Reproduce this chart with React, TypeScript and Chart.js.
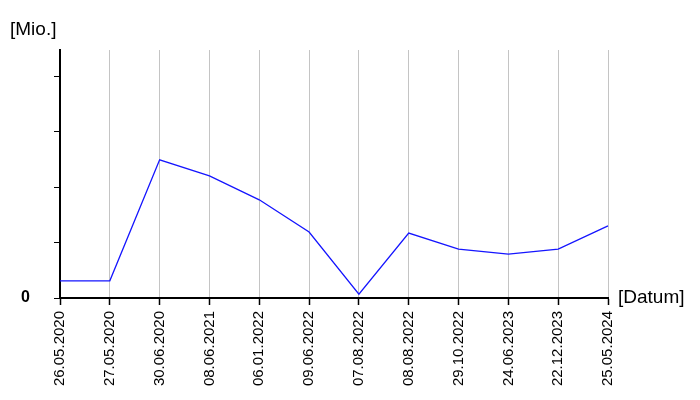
import React, { useEffect, useRef } from "react";
import { Chart, registerables } from "chart.js";

Chart.register(...registerables);

const dates = [
  "26.05.2020", "27.05.2020", "30.06.2020", "08.06.2021", "06.01.2022", "09.06.2022",
  "07.08.2022", "08.08.2022", "29.10.2022", "24.06.2023", "22.12.2023", "25.05.2024",
];
const values = [0.31, 0.31, 2.49, 2.2, 1.77, 1.19, 0.07, 1.17, 0.88, 0.79, 0.88, 1.3];
const yMax = 4.47;
const yUnitLabel = "[Mio.]";
const xUnitLabel = "[Datum]";

const FONT = "'Liberation Sans', Arial, sans-serif";

export default function App() {
  const ref = useRef<HTMLCanvasElement | null>(null);
  useEffect(() => {
    if (!ref.current) return;
    const unitPlugin = {
      id: "units",
      afterDraw(chart: any) {
        const ctx = chart.ctx;
        const area = chart.chartArea;
        ctx.save();
        ctx.fillStyle = "#000";
        ctx.font = `19px ${FONT}`;
        ctx.textAlign = "left";
        ctx.textBaseline = "middle";
        ctx.fillText(yUnitLabel, 10, 30);
        ctx.fillText(xUnitLabel, area.right + 10, area.bottom);
        ctx.restore();
      },
    };
    const chart = new Chart(ref.current, {
      type: "line",
      data: {
        labels: dates,
        datasets: [
          {
            data: values,
            borderColor: "#1515ff",
            borderWidth: 1.3,
            pointRadius: 0,
            tension: 0,
            fill: false,
          },
        ],
      },
      options: {
        responsive: true,
        maintainAspectRatio: false,
        animation: false,
        layout: { padding: { top: 50, right: 92, left: 0, bottom: 0 } },
        plugins: { legend: { display: false }, tooltip: { enabled: false } },
        scales: {
          x: {
            type: "category",
            offset: false,
            afterFit(scale: any) {
              scale.height = 102;
            },
            grid: {
              color: "#c4c4c4",
              lineWidth: 1,
              drawTicks: true,
              tickLength: 7,
              tickColor: "#000",
              tickWidth: 1.5,
            },
            border: { color: "#000", width: 2 },
            ticks: {
              autoSkip: false,
              minRotation: 90,
              maxRotation: 90,
              padding: 6,
              color: "#000",
              font: { family: FONT, size: 15 },
            },
          },
          y: {
            min: 0,
            max: yMax,
            afterFit(scale: any) {
              scale.width = 60;
            },
            afterBuildTicks(scale: any) {
              scale.ticks = scale.ticks.filter((t: any) => Number.isInteger(t.value));
            },
            grid: {
              drawOnChartArea: false,
              drawTicks: true,
              tickLength: 6,
              tickColor: "#000",
            },
            border: { color: "#000", width: 2 },
            ticks: {
              stepSize: 1,
              padding: 24,
              color: "#000",
              font: { family: FONT, size: 16, weight: "bold" },
              callback: (v: any) => (Number(v) === 0 ? "0" : ""),
            },
          },
        },
      },
      plugins: [unitPlugin],
    } as any);
    return () => chart.destroy();
  }, []);
  return (
    <div style={{ position: "absolute", left: 0, top: 0, width: 700, height: 400, background: "#fff" }}>
      <canvas ref={ref} />
    </div>
  );
}
